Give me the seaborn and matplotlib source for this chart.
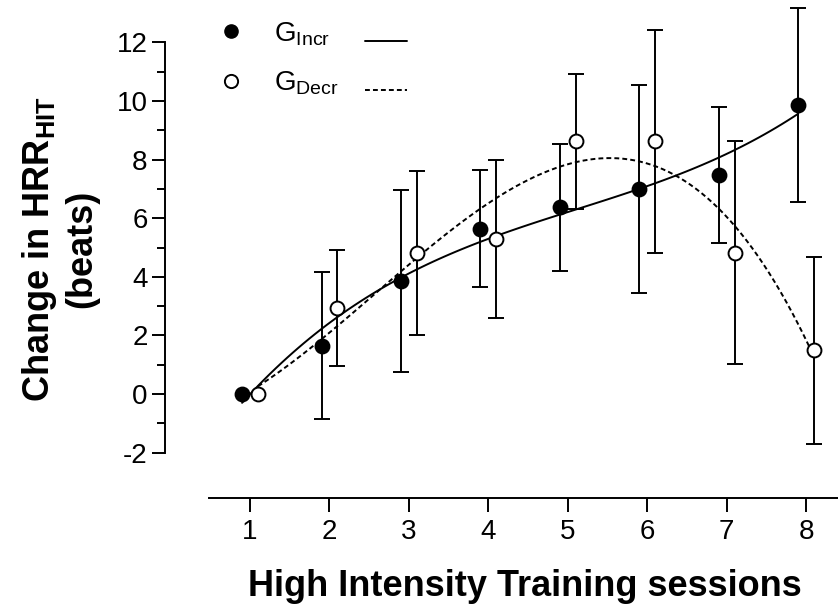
import numpy as np
import pandas as pd
import matplotlib.pyplot as plt
import seaborn as sns
from matplotlib.lines import Line2D
from matplotlib.legend_handler import HandlerLine2D
from matplotlib.ticker import FixedLocator

# values
sessions = [1, 2, 3, 4, 5, 6, 7, 8]
incr_mean = [0.0, 1.65, 3.86, 5.64, 6.37, 6.99, 7.48, 9.87]
incr_err = [0.0, 2.5, 3.12, 2.0, 2.17, 3.55, 2.31, 3.3]
decr_mean = [0.0, 2.95, 4.8, 5.28, 8.63, 8.63, 4.82, 1.5]
decr_err = [0.0, 1.98, 2.8, 2.7, 2.31, 3.8, 3.8, 3.19]
shift = 0.1

sns.set_style('ticks')
plt.rcParams['font.family'] = ['Liberation Sans', 'DejaVu Sans']
plt.rcParams['mathtext.default'] = 'regular'
plt.rcParams['axes.unicode_minus'] = False
for k in ['text.color', 'axes.labelcolor', 'xtick.color', 'ytick.color', 'axes.edgecolor']:
    plt.rcParams[k] = 'black'


class LowLine(HandlerLine2D):
    # legend line sits a bit lower than the marker, like in the original
    def create_artists(self, legend, orig_handle, xdescent, ydescent, width, height, fontsize, trans):
        arts = super().create_artists(legend, orig_handle, xdescent, ydescent,
                                      width, height, fontsize, trans)
        for a in arts:
            a.set_ydata(np.asarray(a.get_ydata()) - 0.36 * fontsize)
        return arts


incr = pd.DataFrame({'x': np.array(sessions) - shift, 'y': incr_mean, 'err': incr_err})
decr = pd.DataFrame({'x': np.array(sessions) + shift, 'y': decr_mean, 'err': decr_err})

fig = plt.figure(figsize=(8.38, 6.08), dpi=100)
ax = fig.add_axes([165 / 838, 110 / 608, 673 / 838, 498 / 608])

# polynomial fits
sns.regplot(data=incr, x='x', y='y', order=3, ci=None, scatter=False, ax=ax,
            color='black', line_kws=dict(lw=1.4, zorder=2))
sns.regplot(data=decr, x='x', y='y', order=3, ci=None, scatter=False, ax=ax,
            color='black', line_kws=dict(lw=1.4, ls=(0, (2.5, 1.6)), zorder=2))

# error bars
for d in [incr, decr]:
    e = d[d['err'] > 0]
    ax.errorbar(e['x'], e['y'], yerr=e['err'], fmt='none', ecolor='black',
                elinewidth=1.4, capsize=6, capthick=1.4, zorder=1)

sns.scatterplot(data=incr, x='x', y='y', ax=ax, s=100, color='black',
                edgecolor='black', linewidth=1.4, zorder=3)
sns.scatterplot(data=decr, x='x', y='y', ax=ax, s=100, color='white',
                edgecolor='black', linewidth=1.4, zorder=4)

ax.set_xlim(-0.07, 8.4)
ax.set_ylim(-3.55, 13.45)
ax.set_xticks(sessions)
ax.set_yticks(range(-2, 13, 2))
ax.yaxis.set_minor_locator(FixedLocator(range(-1, 12, 2)))
sns.despine(ax=ax)
ax.spines['left'].set_bounds(-2, 12)
ax.spines['bottom'].set_bounds(0.48, 8.4)
for s in ['left', 'bottom']:
    ax.spines[s].set_linewidth(1.4)
ax.tick_params(axis='y', which='major', length=9.5, width=1.4, labelsize=20, pad=3)
ax.tick_params(axis='y', which='minor', length=5.8, width=1.4)
ax.tick_params(axis='x', length=10, width=1.4, labelsize=20, pad=5)

ax.set_xlabel('High Intensity Training sessions', fontsize=26, fontweight='bold')
ax.set_ylabel('Change in HRR$_{HIT}$\n(beats)', fontsize=26, fontweight='bold',
              multialignment='center')
ax.xaxis.set_label_coords(0.535, -0.142)
ax.yaxis.set_label_coords(-0.098, 0.5)

# legend: marker, label, then the fit line
h_in = Line2D([], [], marker='o', ls='none', color='black', markersize=9.5)
h_de = Line2D([], [], marker='o', ls='none', color='black', markerfacecolor='white',
              markersize=9.5, markeredgewidth=1.4)
l_in = Line2D([], [], color='black', lw=1.4)
l_de = Line2D([], [], color='black', lw=1.4, ls=(0, (2.5, 1.6)))
ax.legend([h_in, h_de, l_in, l_de], ['G$_{Incr}$', 'G$_{Decr}$', '', ''],
          ncol=2, frameon=False, fontsize=20, handlelength=1.5, handletextpad=0.8,
          columnspacing=0.95, labelspacing=0.8, loc='upper left',
          bbox_to_anchor=(0.03, 1.01),
          handler_map={l_in: LowLine(), l_de: LowLine()})

fig.savefig('out.png', dpi=100)
